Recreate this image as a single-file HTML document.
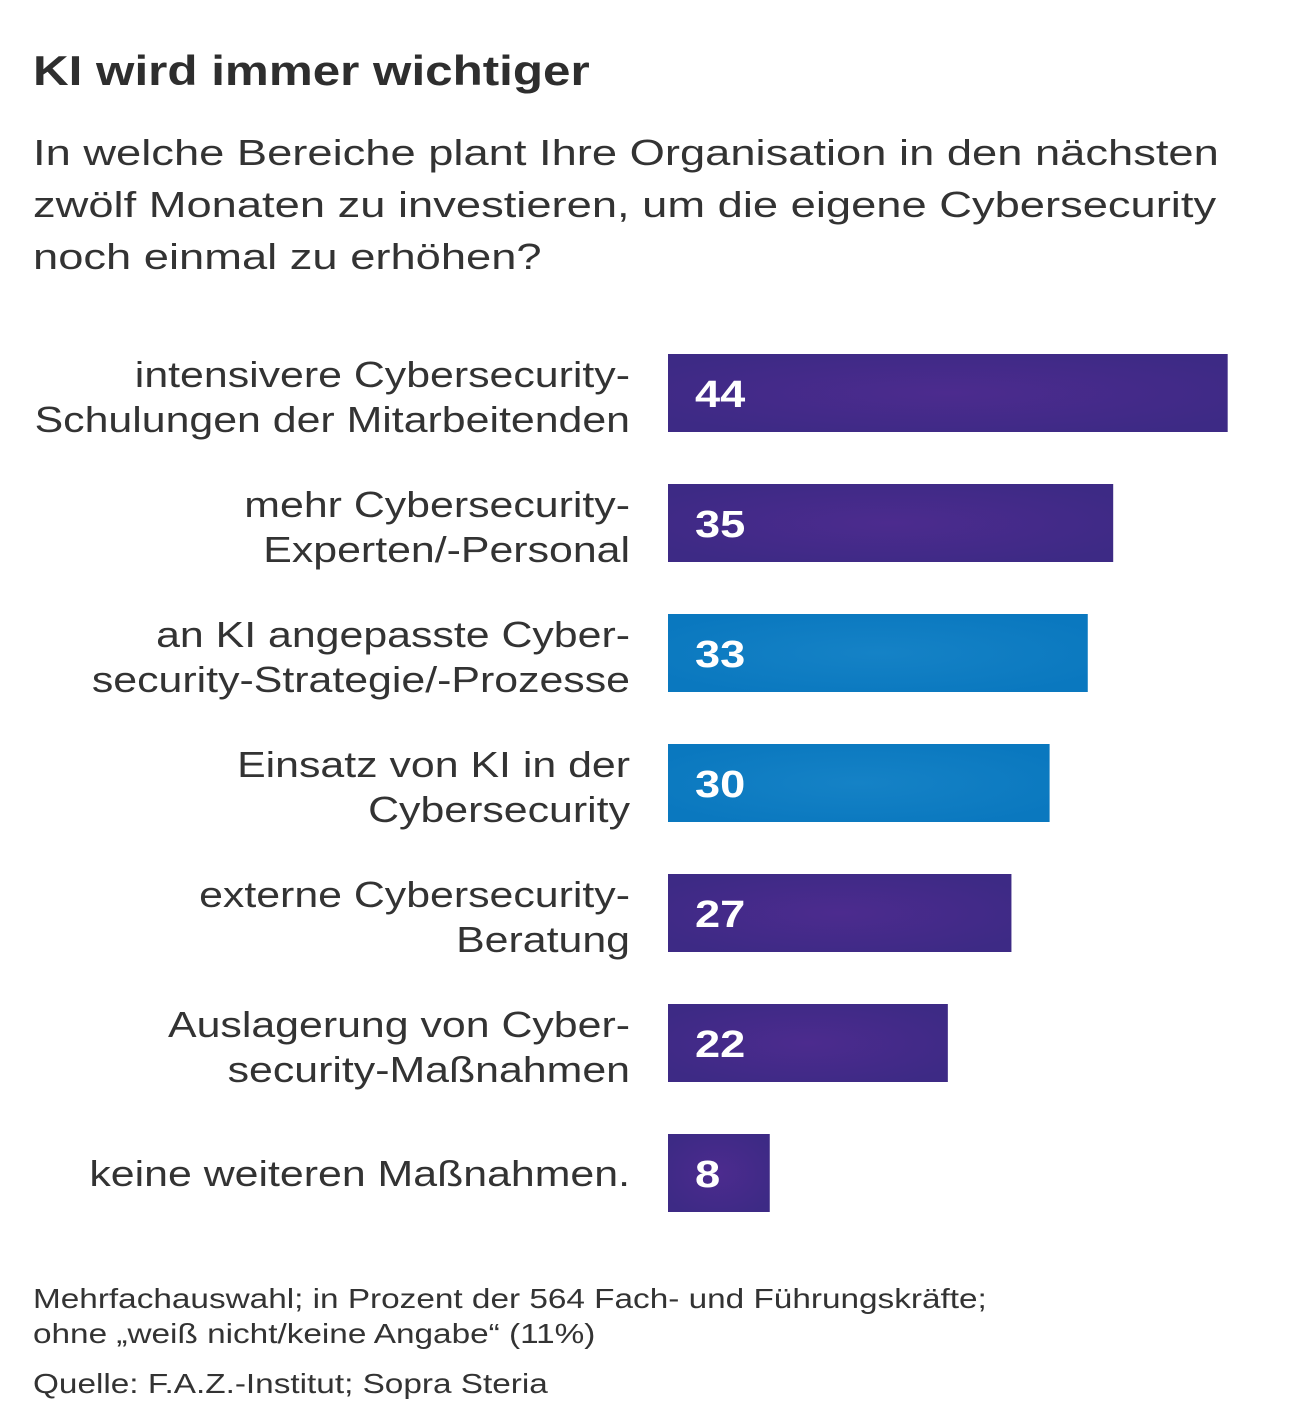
<!DOCTYPE html>
<html><head><meta charset="utf-8"><style>
body{margin:0;background:#fff;}
svg{display:block;font-family:"Liberation Sans",sans-serif;}
</style></head><body>
<svg id="c" width="1290" height="1418">
<defs>
<radialGradient id="gp" cx="50%" cy="50%" r="60%"><stop offset="0" stop-color="#4c2b8e"/><stop offset="1" stop-color="#3d2a85"/></radialGradient>
<radialGradient id="gb" cx="50%" cy="50%" r="60%"><stop offset="0" stop-color="#1582c6"/><stop offset="1" stop-color="#0a78bf"/></radialGradient>
</defs>
<text class="w" data-f="1.175" x="33" y="85" font-size="42" font-weight="bold" fill="#2e2e2e">KI wird immer wichtiger</text>
<g font-size="36" fill="#333">
<text class="w" data-f="1.258" x="33" y="165">In welche Bereiche plant Ihre Organisation in den nächsten</text>
<text class="w" data-f="1.258" x="33" y="217">zwölf Monaten zu investieren, um die eigene Cybersecurity</text>
<text class="w" data-f="1.258" x="33" y="269">noch einmal zu erhöhen?</text>
</g>
<g id="bars"></g>
<g font-size="28" fill="#333">
<text class="w" x="33" y="1308">Mehrfachauswahl; in Prozent der 564 Fach- und Führungskräfte;</text>
<text class="w" x="33" y="1343">ohne „weiß nicht/keine Angabe“ (11%)</text>
<text class="w" x="33" y="1393">Quelle: F.A.Z.-Institut; Sopra Steria</text>
</g>
</svg>
<script>
const categories=[["intensivere Cybersecurity-","Schulungen der Mitarbeitenden"],["mehr Cybersecurity-","Experten/-Personal"],["an KI angepasste Cyber-","security-Strategie/-Prozesse"],["Einsatz von KI in der","Cybersecurity"],["externe Cybersecurity-","Beratung"],["Auslagerung von Cyber-","security-Maßnahmen"],["keine weiteren Maßnahmen."]];
const values=[44,35,33,30,27,22,8];
const highlight=[false,false,true,true,false,false,false];
const x0=668, pxPer=12.72, y0=354, step=130, bh=78;
const xs=v=>v*pxPer, ys=i=>y0+i*step;
const g=document.getElementById('bars'), NS='http://www.w3.org/2000/svg';
values.forEach((v,i)=>{
  const r=document.createElementNS(NS,'rect');
  r.setAttribute('x',x0);r.setAttribute('y',ys(i));r.setAttribute('width',xs(v));r.setAttribute('height',bh);
  r.setAttribute('fill',highlight[i]?'url(#gb)':'url(#gp)');
  
  
  g.appendChild(r);
  const t=document.createElementNS(NS,'text');
  t.setAttribute('x',x0+27);t.setAttribute('y',ys(i)+bh/2+14);
  t.setAttribute('font-size','38');t.setAttribute('font-weight','bold');t.setAttribute('fill','#fff');
  t.setAttribute('class','w');
  t.textContent=v;
  
  
  g.appendChild(t);
  const lines=categories[i];
  lines.forEach((ln,j)=>{
    const l=document.createElementNS(NS,'text');
    const yb=lines.length===1?ys(i)+bh/2+13:ys(i)+33+j*45;
    l.setAttribute('x',630);l.setAttribute('y',yb);l.setAttribute('text-anchor','end');
    l.setAttribute('font-size','36');l.setAttribute('fill','#333');
    l.setAttribute('class','w');
    l.textContent=ln;
    
    
    g.appendChild(l);
  });
});
document.querySelectorAll('text.w').forEach(el=>{
  const w=el.getComputedTextLength();
  const f=parseFloat(el.getAttribute('data-f')||'1.19');
  el.setAttribute('textLength',(w*f).toFixed(1));
  el.setAttribute('lengthAdjust','spacingAndGlyphs');
});
</script>
</body></html>
